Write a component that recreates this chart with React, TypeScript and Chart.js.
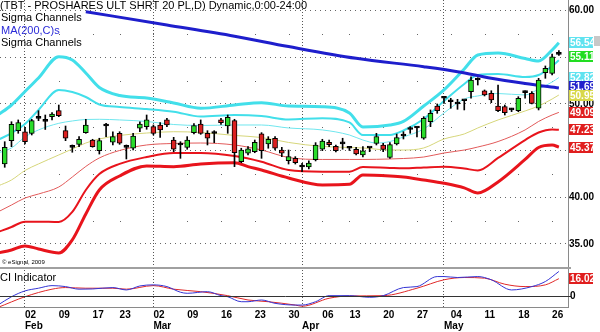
import React, { useEffect, useRef } from 'react';
import { Chart, registerables } from 'chart.js';

Chart.register(...registerables);

// ---------- categories (trading days) ----------
const dates: string[] = [
  '2009-01-27', '2009-01-28', '2009-01-29', '2009-01-30',
  '2009-02-02', '2009-02-03', '2009-02-04', '2009-02-05', '2009-02-06',
  '2009-02-09', '2009-02-10', '2009-02-11', '2009-02-12', '2009-02-13',
  '2009-02-17', '2009-02-18', '2009-02-19', '2009-02-20',
  '2009-02-23', '2009-02-24', '2009-02-25', '2009-02-26', '2009-02-27',
  '2009-03-02', '2009-03-03', '2009-03-04', '2009-03-05', '2009-03-06',
  '2009-03-09', '2009-03-10', '2009-03-11', '2009-03-12', '2009-03-13',
  '2009-03-16', '2009-03-17', '2009-03-18', '2009-03-19', '2009-03-20',
  '2009-03-23', '2009-03-24', '2009-03-25', '2009-03-26', '2009-03-27',
  '2009-03-30', '2009-03-31',
  '2009-04-01', '2009-04-02', '2009-04-03',
  '2009-04-06', '2009-04-07', '2009-04-08', '2009-04-09',
  '2009-04-13', '2009-04-14', '2009-04-15', '2009-04-16', '2009-04-17',
  '2009-04-20', '2009-04-21', '2009-04-22', '2009-04-23', '2009-04-24',
  '2009-04-27', '2009-04-28', '2009-04-29', '2009-04-30',
  '2009-05-01',
  '2009-05-04', '2009-05-05', '2009-05-06', '2009-05-07', '2009-05-08',
  '2009-05-11', '2009-05-12', '2009-05-13', '2009-05-14', '2009-05-15',
  '2009-05-18', '2009-05-19', '2009-05-20', '2009-05-21', '2009-05-22',
  '2009-05-26', '2009-05-27',
];

// ---------- OHLC (first day has no visible candle) ----------
const openP: (number | null)[] = [null,
  43.57, 46.06, 47.13, 47.02, 46.85, 48.45, 48.12, 48.63, 49.27, 47.13,
  45.35, 45.67, 46.92, 46.13, 44.99, 47.63, 45.89, 46.85, 45.35, 45.25,
  47.39, 47.56, 47.56, 47.74, 48.28, 46.13, 45.60, 45.35, 46.92, 47.85,
  46.85, 46.83, 48.28, 47.63, 48.20, 43.81, 44.71, 44.88, 46.78, 45.71,
  46.32, 45.06, 43.92, 44.17, 43.24, 43.24, 44.02, 45.14, 45.89, 45.46,
  45.71, 45.25, 45.14, 44.53, 45.28, 45.76, 45.60, 44.28, 45.71, 46.56,
  47.26, 47.42, 46.32, 48.09, 49.77, 50.60, 50.23, 49.99, 50.34, 51.31,
  52.56, 51.41, 51.13, 49.77, 49.70, 49.35, 49.27, 51.20, 51.13, 49.53,
  53.34, 53.27, 55.30];
const highP: (number | null)[] = [null,
  45.95, 48.09, 48.28, 47.49, 48.35, 49.27, 48.81, 49.06, 49.88, 47.63,
  45.60, 46.49, 48.35, 46.21, 46.32, 47.92, 47.02, 47.02, 45.60, 46.85,
  48.09, 48.81, 47.74, 47.99, 48.46, 46.42, 45.95, 46.49, 47.90, 48.28,
  47.13, 47.13, 48.46, 48.81, 48.35, 45.25, 45.42, 46.13, 46.92, 46.49,
  46.49, 45.35, 45.06, 44.35, 43.64, 43.89, 45.85, 46.21, 46.13, 45.60,
  46.32, 45.42, 45.35, 45.42, 45.35, 46.85, 45.78, 45.85, 46.77, 47.02,
  47.56, 47.58, 48.63, 49.35, 49.99, 50.77, 50.60, 50.49, 50.42, 52.91,
  52.80, 51.49, 51.41, 52.02, 49.88, 49.53, 50.77, 51.41, 51.31, 52.74,
  54.06, 55.34, 55.70];
const lowP: (number | null)[] = [null,
  43.21, 45.42, 46.85, 45.71, 46.67, 48.20, 47.26, 48.28, 48.63, 46.06,
  44.82, 45.42, 46.85, 45.36, 44.63, 46.49, 45.60, 45.67, 44.10, 45.06,
  47.02, 47.28, 46.67, 46.42, 47.56, 44.88, 44.17, 45.14, 46.78, 46.74,
  45.60, 45.85, 47.81, 46.85, 43.28, 43.70, 44.53, 44.77, 44.17, 45.25,
  45.06, 44.35, 43.56, 43.56, 42.74, 43.03, 43.89, 44.99, 45.42, 44.85,
  45.14, 45.01, 44.53, 44.31, 44.88, 45.60, 44.88, 44.17, 45.60, 46.24,
  46.85, 46.46, 46.21, 47.56, 48.99, 50.06, 49.53, 49.42, 49.35, 50.60,
  52.02, 50.85, 50.13, 49.16, 48.81, 49.17, 49.16, 50.60, 49.99, 49.35,
  52.74, 53.09, 55.20];
const closeP: (number | null)[] = [null,
  45.35, 47.81, 47.99, 45.95, 48.20, 48.45, 48.12, 48.92, 48.74, 46.32,
  45.35, 46.21, 47.74, 45.42, 46.06, 47.63, 46.49, 45.78, 45.35, 46.56,
  47.85, 48.28, 46.85, 47.21, 47.74, 45.14, 45.60, 46.13, 47.69, 46.85,
  46.32, 46.83, 47.99, 48.56, 44.77, 45.06, 45.20, 45.89, 44.99, 46.21,
  45.25, 44.71, 44.35, 43.70, 43.24, 43.67, 45.60, 46.01, 45.63, 44.99,
  45.71, 45.25, 44.63, 44.96, 45.28, 46.51, 45.12, 45.65, 46.40, 46.56,
  47.26, 47.42, 48.46, 48.99, 49.27, 50.60, 50.23, 49.99, 50.34, 52.56,
  52.56, 50.95, 50.42, 49.27, 49.06, 49.35, 50.60, 51.20, 50.06, 52.56,
  53.81, 55.05, 55.30];

// ---------- overlay lines: [day index, value] ----------
const maLine = [[13, 59.87], [25, 58.45], [35, 57.25], [43, 56.14], [53, 54.88], [63, 53.98], [68, 53.45], [73, 52.74], [78, 52.18], [83, 51.69]];
const upper3 = [[0, 48.81], [2, 49.88], [4, 51.33], [6, 52.77], [9, 55.05], [11, 54.70], [13, 53.31], [15, 51.76], [18, 50.90], [22, 50.63], [26, 50.10], [30, 49.53], [35, 49.88], [39, 50.13], [43, 49.77], [48, 49.70], [52, 49.03], [54, 47.53], [58, 47.74], [60, 48.12], [63, 49.77], [66, 51.50], [69, 53.74], [71, 55.24], [74, 55.45], [78, 54.86], [80, 54.59], [82, 55.77], [83, 56.54]];
const upper2 = [[0, 46.13], [2, 46.88], [4, 47.85], [6, 49.35], [9, 51.49], [11, 51.27], [13, 50.74], [15, 49.94], [18, 49.67], [22, 49.45], [26, 49.16], [30, 48.65], [35, 48.81], [39, 48.70], [43, 48.33], [48, 48.46], [52, 48.01], [54, 46.67], [58, 46.67], [60, 47.15], [63, 48.38], [66, 50.31], [69, 52.13], [71, 53.09], [74, 53.20], [78, 52.88], [80, 53.09], [82, 54.06], [83, 54.67]];
const upper1 = [[0, 44.74], [2, 45.28], [4, 46.46], [6, 47.21], [9, 47.92], [11, 48.17], [13, 48.33], [15, 48.35], [18, 48.28], [22, 48.12], [26, 47.79], [30, 47.69], [35, 47.74], [39, 47.74], [43, 47.42], [48, 47.21], [52, 46.67], [54, 46.13], [56, 45.81], [58, 45.97], [60, 46.46], [63, 47.31], [66, 49.03], [69, 50.52], [71, 50.85], [74, 51.11], [78, 50.95], [80, 51.59], [82, 52.34], [83, 52.82]];
const midLine = [[0, 41.21], [2, 41.85], [4, 42.87], [6, 43.57], [9, 44.53], [11, 45.17], [13, 45.81], [15, 46.24], [18, 46.62], [22, 46.88], [26, 47.02], [30, 46.94], [35, 46.62], [39, 46.40], [43, 45.87], [48, 45.44], [52, 45.33], [54, 45.28], [58, 45.06], [60, 45.06], [63, 45.28], [66, 46.24], [69, 46.78], [71, 47.42], [74, 48.28], [78, 49.24], [80, 49.78], [82, 50.52], [83, 50.95]];
const lower1 = [[0, 38.43], [2, 39.17], [4, 39.92], [6, 40.35], [9, 41.10], [11, 42.17], [13, 43.30], [15, 44.21], [18, 45.01], [22, 45.60], [26, 45.76], [30, 45.81], [35, 45.60], [39, 45.06], [43, 44.26], [48, 44.05], [52, 44.05], [54, 44.05], [58, 44.10], [60, 44.15], [63, 44.31], [66, 44.74], [69, 45.06], [71, 45.38], [74, 45.97], [78, 47.21], [80, 48.12], [82, 48.81], [83, 49.09]];
const lower2 = [[0, 36.28], [2, 36.82], [4, 37.39], [6, 37.39], [9, 37.35], [11, 38.43], [13, 40.78], [15, 42.49], [18, 43.57], [22, 44.31], [26, 44.74], [30, 44.74], [35, 44.42], [39, 43.81], [43, 42.92], [48, 42.74], [52, 42.74], [54, 43.24], [58, 43.14], [60, 43.10], [63, 43.19], [66, 43.28], [69, 43.08], [71, 42.87], [74, 44.21], [78, 46.13], [80, 46.94], [82, 47.26], [83, 47.23]];
const lower3 = [[0, 34.04], [2, 34.36], [4, 34.79], [6, 34.46], [9, 34.04], [11, 35.43], [13, 38.21], [15, 40.78], [18, 42.28], [22, 43.35], [26, 43.28], [30, 43.57], [35, 43.70], [37, 43.28], [39, 42.92], [43, 42.07], [48, 41.32], [52, 41.39], [54, 42.39], [58, 42.28], [60, 42.17], [63, 41.85], [66, 41.50], [69, 41.00], [71, 40.46], [74, 41.64], [78, 44.05], [80, 45.33], [82, 45.60], [83, 45.37]];

// ---------- CI indicator ----------
const ciBlue = [[0, -8.4], [2, -0.7], [4, 4.7], [6, 7.2], [8, 9.6], [10, 8.7], [12, 6.3], [14, 6.5], [17, 7.8], [19, 5.6], [21, 9.3], [23, 10.3], [25, 8.7], [27, 3.5], [28, 2.5], [31, 4.0], [33, 0.3], [34, -0.7], [36, -5.3], [37, -5.3], [39, -3.7], [41, -6.8], [44, -8.4], [45, -8.4], [47, -5.3], [49, 0.3], [52, 0.3], [55, -1.2], [57, 0.3], [60, 7.8], [62, 8.7], [65, 18.0], [66, 18.0], [68, 17.1], [71, 18.0], [73, 15.0], [76, 5.6], [79, 8.7], [81, 13.4], [83, 22.7]];
const ciRed = [[0, -10.6], [4, -0.7], [8, 6.3], [10, 7.8], [13, 7.2], [17, 7.2], [19, 6.3], [23, 9.6], [26, 6.3], [30, 4.0], [34, 0.3], [37, -3.7], [40, -5.3], [44, -8.4], [45, -9.5], [49, -2.1], [52, 0], [57, 0.3], [62, 7.2], [66, 15.0], [69, 17.1], [72, 16.5], [75, 10.9], [78, 8.7], [81, 10.3], [83, 16.02]];

// ---------- ticks and labels ----------
const weekTickDates = ['2009-02-02', '2009-02-09', '2009-02-17', '2009-02-23', '2009-03-02', '2009-03-09', '2009-03-16', '2009-03-23', '2009-03-30', '2009-04-06', '2009-04-13', '2009-04-20', '2009-04-27', '2009-05-04', '2009-05-11', '2009-05-18', '2009-05-26'];
const monthStartDates = ['2009-02-02', '2009-03-02', '2009-04-01', '2009-05-01'];
const monthNames = ['Feb', 'Mar', 'Apr', 'May'];
const priceTicks = [35, 40, 45, 50, 55, 60];
const hiddenPriceTicks = [45, 55];
const minorPriceLevels = [37.5, 42.5, 47.5, 52.5, 57.5];
const lastPriceTags = [
  { text: '56.54', value: 56.54, bg: '#5fe3f0' },
  { text: '55.11', value: 55.11, bg: '#22dd22' },
  { text: '52.82', value: 52.82, bg: '#5fe3f0' },
  { text: '51.69', value: 51.69, bg: '#2222cc' },
  { text: '50.95', value: 50.95, bg: '#d8d84a' },
  { text: '49.09', value: 49.09, bg: '#e01e1e' },
  { text: '47.23', value: 47.23, bg: '#e01e1e' },
  { text: '45.37', value: 45.37, bg: '#e01e1e' },
];
const ciTag = { text: '16.02', value: 16.02, bg: '#e01e1e' };
const titleLines = [
  { text: '(TBT - PROSHARES ULT SHRT 20 PL,D) Dynamic,0:00-24:00', color: '#000' },
  { text: 'Sigma Channels', color: '#000' },
  { text: 'MA(200,C)s', color: '#2a2ad8' },
  { text: 'Sigma Channels', color: '#000' },
];

// ---------- layout constants ----------
const W = 600, H = 332;
const X_MIN = 0.301, X_MAX = 84.35;
const PRICE_MIN = 28.25, PRICE_MAX = 61.124;
const CI_MIN = -10.2, CI_MAX = 274.1;
const MAIN_BOTTOM = 268;
const FONT = '"Liberation Sans", Arial, sans-serif';

const GREEN = '#2bdc2b', RED = '#dc2020', CYAN = '#42dfea', BAND_RED = '#e8141c';

const idxOf = (d: string) => dates.indexOf(d);
const weekTicks = weekTickDates.map(idxOf);
const monthTicks = monthStartDates.map(idxOf);
const allTicks = Array.from(new Set([...weekTicks, ...monthTicks])).sort((a, b) => a - b);

const pts = (arr: number[][]) => arr.map(([x, y]) => ({ x, y }));

const candleIdx = dates.map((_, i) => i).filter((i) => openP[i] != null);
const wickData = candleIdx.map((i) => ({ x: i, y: [lowP[i], highP[i]] }));
const bodyData = candleIdx.map((i) => ({ x: i, y: [openP[i], closeP[i]] }));
const bodyColors = candleIdx.map((i) => {
  const o = openP[i] as number, c = closeP[i] as number;
  return c > o ? GREEN : c < o ? RED : '#000';
});

function lineDs(label: string, data: number[][], color: string, width: number, axis = 'y') {
  return {
    type: 'line',
    label,
    data: pts(data),
    yAxisID: axis,
    borderColor: color,
    borderWidth: width,
    pointRadius: 0,
    fill: false,
    cubicInterpolationMode: 'monotone',
    tension: 0.4,
  };
}

function drawTag(ctx: CanvasRenderingContext2D, x: number, yc: number, text: string, bg: string) {
  const h = 11, w = 24;
  const top = Math.round(yc - h / 2);
  ctx.save();
  ctx.fillStyle = bg;
  ctx.fillRect(x, top, w, h);
  ctx.beginPath();
  ctx.rect(x, top, w, h);
  ctx.clip();
  ctx.fillStyle = '#fff';
  ctx.font = `bold 10px ${FONT}`;
  ctx.textBaseline = 'middle';
  ctx.textAlign = 'left';
  ctx.fillText(text, x + 1, top + h / 2 + 0.5);
  ctx.restore();
}

const decorPlugin = {
  id: 'decor',
  beforeDatasetsDraw(chart: any) {
    const { ctx, scales } = chart;
    const xs = scales.x, ys = scales.y;
    ctx.save();
    ctx.fillStyle = '#666';
    for (const lv of minorPriceLevels) {
      const py = Math.round(ys.getPixelForValue(lv));
      for (const t of weekTicks) {
        const px = Math.round(xs.getPixelForValue(t));
        ctx.fillRect(px, py, 1, 1);
      }
    }
    ctx.restore();
  },
  afterDraw(chart: any) {
    const { ctx, chartArea: a, scales } = chart;
    const ys = scales.y, y2 = scales.y2;
    ctx.save();
    // panel separator
    ctx.fillStyle = '#a0a0a0';
    ctx.fillRect(0, MAIN_BOTTOM - 1, a.right + 3, 2);
    // CI zero line
    const zy = Math.round(y2.getPixelForValue(0)) + 0.5;
    ctx.strokeStyle = '#333';
    ctx.lineWidth = 1;
    ctx.beginPath();
    ctx.moveTo(0, zy);
    ctx.lineTo(a.right + 3, zy);
    ctx.stroke();
    ctx.fillStyle = '#000';
    ctx.font = `bold 10px ${FONT}`;
    ctx.textBaseline = 'middle';
    ctx.fillText('0', a.right + 2, zy);

    // titles
    ctx.font = `11px ${FONT}`;
    ctx.textBaseline = 'middle';
    ctx.textAlign = 'left';
    titleLines.forEach((t, i) => {
      ctx.fillStyle = t.color;
      ctx.fillText(t.text, i === 0 ? 0 : 1, 6 + i * 12.4);
    });
    ctx.fillStyle = '#000';
    ctx.fillText('CI Indicator', 0, 277.5);
    ctx.font = `6px ${FONT}`;
    ctx.fillText('\u00a9 eSignal, 2009', 2, 262);

    // last value tags with simple collision push (bottom-up)
    const tags = lastPriceTags.map((t) => ({ ...t, y: ys.getPixelForValue(t.value) }));
    tags.sort((p, q) => q.y - p.y);
    for (let i = 1; i < tags.length; i++) {
      if (tags[i].y > tags[i - 1].y - 9) tags[i].y = tags[i - 1].y - 9;
    }
    tags.sort((p, q) => p.y - q.y);
    for (const t of tags) drawTag(ctx, a.right + 1, t.y, t.text, t.bg);
    drawTag(ctx, a.right + 1, y2.getPixelForValue(ciTag.value), ciTag.text, ciTag.bg);

    // small gray widget at top right
    ctx.fillStyle = '#c8c8c8';
    ctx.fillRect(594, 36, 6, 10);
    ctx.restore();
  },
};

export default function App() {
  const ref = useRef<HTMLCanvasElement | null>(null);
  useEffect(() => {
    document.body.style.margin = '0';
    Chart.defaults.font.family = FONT;
    const canvas = ref.current as HTMLCanvasElement;
    const chart = new Chart(canvas, {
      type: 'line',
      data: {
        datasets: [
          {
            type: 'bar',
            label: 'body',
            data: bodyData,
            backgroundColor: bodyColors,
            borderColor: '#000',
            borderWidth: 1,
            borderSkipped: false,
            barThickness: 5,
            minBarLength: 2,
            grouped: false,
            yAxisID: 'y',
          },
          {
            type: 'bar',
            label: 'wick',
            data: wickData,
            backgroundColor: '#000',
            borderWidth: 0,
            barThickness: 1,
            grouped: false,
            yAxisID: 'y',
          },
          lineDs('MA(200,C)', maLine, '#1e1ecc', 3),
          lineDs('upper3', upper3, CYAN, 3),
          lineDs('upper2', upper2, CYAN, 2),
          lineDs('upper1', upper1, '#6fe6ee', 1),
          lineDs('mid', midLine, '#d6d67a', 1),
          lineDs('lower1', lower1, '#e25a5a', 1),
          lineDs('lower2', lower2, BAND_RED, 2),
          lineDs('lower3', lower3, BAND_RED, 3),
          lineDs('ciBlue', ciBlue, '#3434d4', 1, 'y2'),
          lineDs('ciRed', ciRed, '#e02828', 1, 'y2'),
        ] as any,
      },
      options: {
        responsive: false,
        maintainAspectRatio: false,
        animation: false,
        events: [],
        layout: { padding: 0 },
        plugins: { legend: { display: false }, tooltip: { enabled: false }, title: { display: false } },
        scales: {
          x: {
            type: 'linear',
            bounds: 'data',
            min: X_MIN,
            max: X_MAX,
            offset: false,
            afterBuildTicks: (s: any) => { s.ticks = allTicks.map((v) => ({ value: v })); },
            afterFit: (s: any) => { s.height = 25; s.paddingLeft = 0; s.paddingRight = 0; },
            ticks: {
              autoSkip: false,
              maxRotation: 0,
              minRotation: 0,
              align: 'start',
              padding: 3,
              color: '#000',
              font: { size: 10, weight: 'bold', lineHeight: 1.1 },
              callback: (v: any) => {
                const k = Number(v);
                const wi = weekTicks.indexOf(k);
                const mi = monthTicks.indexOf(k);
                const day = wi >= 0 ? dates[k].slice(8, 10) : '';
                if (mi >= 0) return [day, monthNames[mi]];
                return day;
              },
            },
            grid: {
              offset: false,
              drawTicks: false,
              color: (c: any) => (c.tick && monthTicks.includes(c.tick.value) ? '#555' : 'rgba(0,0,0,0)'),
              lineWidth: 1,
            },
            border: { display: true, color: '#8a8a8a', width: 1, dash: [1, 2] },
          },
          y: {
            type: 'linear',
            position: 'right',
            bounds: 'data',
            min: PRICE_MIN,
            max: PRICE_MAX,
            afterBuildTicks: (s: any) => { s.ticks = priceTicks.map((v) => ({ value: v })); },
            afterFit: (s: any) => { s.width = 32; s.paddingTop = 0; s.paddingBottom = 0; },
            ticks: {
              padding: 1,
              color: '#000',
              font: { size: 10, weight: 'bold' },
              callback: (v: any) => (hiddenPriceTicks.includes(Number(v)) ? '' : Number(v).toFixed(2)),
            },
            grid: { drawTicks: false, color: '#666', lineWidth: 1 },
            border: { display: true, color: '#8a8a8a', width: 1, dash: [1, 4] },
          },
          y2: {
            type: 'linear',
            position: 'right',
            display: false,
            bounds: 'data',
            min: CI_MIN,
            max: CI_MAX,
          },
        },
      } as any,
      plugins: [decorPlugin],
    });
    return () => chart.destroy();
  }, []);
  return (
    <div style={{ position: 'absolute', left: 0, top: 0, width: W, height: H, background: '#fff' }}>
      <canvas ref={ref} width={W} height={H} style={{ display: 'block', width: W, height: H }} />
    </div>
  );
}
